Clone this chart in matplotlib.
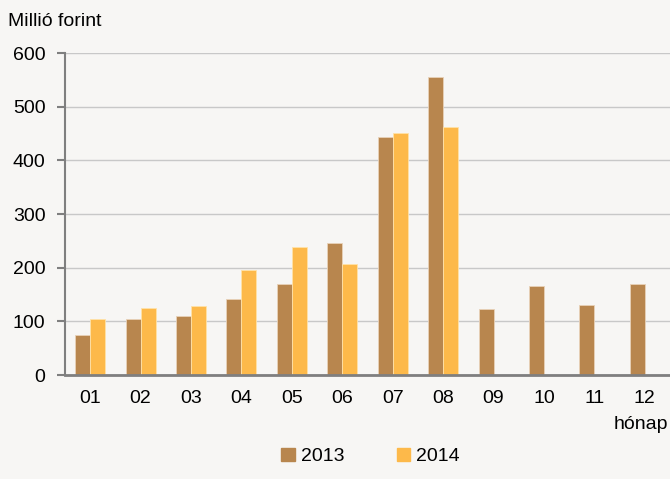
import matplotlib
matplotlib.use("Agg")
import matplotlib.pyplot as plt
import matplotlib.patches as pt
import numpy as np

honapok = ["01", "02", "03", "04", "05", "06", "07", "08", "09", "10", "11", "12"]
ev2013 = [75, 105, 110, 141, 170, 246, 443, 556, 123, 166, 130, 169]
ev2014 = [104, 125, 128, 195, 238, 207, 452, 462]
sorozatok = ["2013", "2014"]
yticks = [0, 100, 200, 300, 400, 500, 600]

bg = "#F7F6F4"
c13 = "#B8864E"
c14 = "#FDB94A"

plt.rcParams['font.family'] = ['Liberation Sans Narrow', 'Liberation Sans', 'DejaVu Sans']
fs = 14

fig = plt.figure(figsize=(6.7, 4.79), dpi=100, facecolor=bg)
ax = fig.add_axes([0.097, 0.217, 0.903, 0.672])
ax.set_facecolor(bg)

x = np.arange(len(honapok))
w = 0.297
ax.bar(x[:len(ev2013)] - w / 2, ev2013, w, color=c13, edgecolor="#E8D2B8", linewidth=0.6, zorder=3)
ax.bar(x[:len(ev2014)] + w / 2, ev2014, w, color=c14, edgecolor="#FFE2A8", linewidth=0.6, zorder=3)

ax.set_xlim(-0.5, len(honapok) - 0.5)
ax.set_ylim(0, 600)
ax.set_yticks(yticks)
ax.set_xticks(x)
ax.set_xticklabels(honapok)
ax.grid(axis="y", color="#C8C8C8", linewidth=1.0, zorder=0)

for s in ["top", "right"]:
    ax.spines[s].set_visible(False)
ax.spines["left"].set_color("#7F7F7F")
ax.spines["left"].set_linewidth(1.5)
ax.spines["bottom"].set_color("#7F7F7F")
ax.spines["bottom"].set_linewidth(2.0)
ax.spines["bottom"].set_zorder(4)

ax.tick_params(axis="y", length=6, width=1.5, color="#7F7F7F", labelsize=fs, pad=8)
ax.tick_params(axis="x", length=0, labelsize=fs, pad=11)

fig.text(0.012, 0.955, "Millió forint", fontsize=fs, ha="left", va="center")
fig.text(0.997, 0.113, "hónap", fontsize=fs, ha="right", va="center")

handles = [pt.Patch(color=c13), pt.Patch(color=c14)]
fig.legend(handles, sorozatok, loc="center", bbox_to_anchor=(0.553, 0.047), ncol=2,
           frameon=False, fontsize=fs, handlelength=0.7, handleheight=0.7,
           handletextpad=0.3, columnspacing=2.7)

fig.savefig("out.png", dpi=100, facecolor=bg)
